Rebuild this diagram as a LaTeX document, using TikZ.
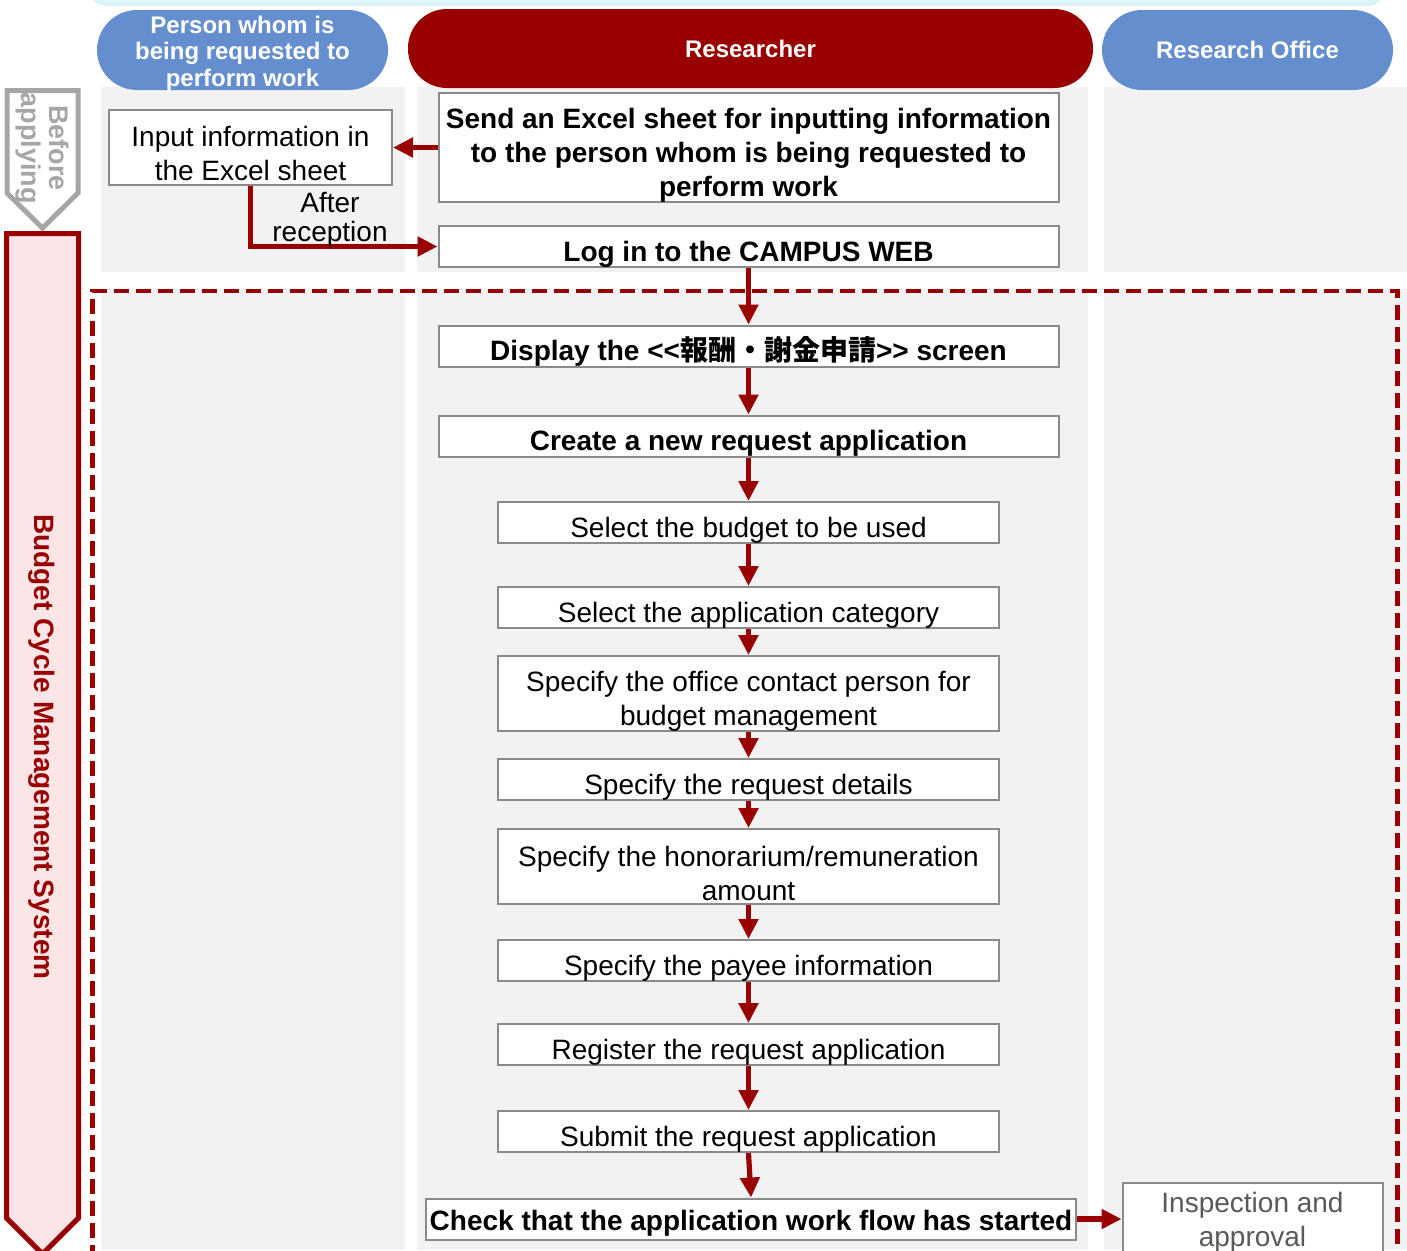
\documentclass[tikz,border=0pt]{standalone}
\usepackage{fontspec}
\setmainfont{Liberation Sans}
\newfontfamily\cjkfont{Noto Sans CJK JP}
\usetikzlibrary{arrows.meta}

\definecolor{darkred}{HTML}{990000}
\definecolor{headblue}{HTML}{658ECF}
\definecolor{lanegray}{HTML}{F2F2F2}
\definecolor{boxgray}{HTML}{8A8A8A}
\definecolor{beforegray}{HTML}{A6A6A6}
\definecolor{topcyan}{HTML}{DCF4F6}
\definecolor{cyclepink}{HTML}{FBE5E6}
\definecolor{inspecttext}{HTML}{595959}

% strut on the first text line, pushes the text a little lower in its box
\newcommand{\stepstrut}[1][20.5pt]{\rule[-3pt]{0pt}{#1}}

\begin{document}
\begin{tikzpicture}[x=0.5pt,y=-0.5pt,
    stepbox/.style={draw=boxgray, line width=1pt, fill=white, align=center, inner xsep=0pt, inner ysep=-1.5pt,
        font=\fontsize{14}{17}\selectfont},
    boldbox/.style={stepbox, font=\bfseries\fontsize{14}{17}\selectfont},
    widebox/.style={minimum width=310pt},
    narrowbox/.style={minimum width=250.5pt},
    onerow/.style={minimum height=20.5pt},
    tworow/.style={minimum height=37.5pt},
    pill/.style={text=white, align=center, inner sep=0pt, font=\bfseries\fontsize{12}{13.25}\selectfont},
    flow/.style={darkred, line width=2.6pt, -{Triangle[width=9.5pt,length=10pt]}}]
    \useasboundingbox (0,0) rectangle (1407,1250);
    \clip (0,0) rectangle (1407,1250);

    % lanes
    \fill[topcyan, rounded corners=8pt] (90,-30) rectangle (1384,6);
    \fill[lanegray] (101,87) rectangle (405,272);
    \fill[lanegray] (417,87) rectangle (1088,272);
    \fill[lanegray] (1104,87) rectangle (1407,272);
    \fill[lanegray] (101,289) rectangle (405,1250);
    \fill[lanegray] (417,289) rectangle (1088,1250);
    \fill[lanegray] (1104,289) rectangle (1407,1250);

    % headers
    \node[pill, fill=headblue, rounded corners=20pt, inner ysep=-1pt, minimum width=145.5pt, minimum height=40pt] (person) at (242.5,50) {\rule{0pt}{12pt}Person whom is\\being requested to\\perform work};
    \node[pill, fill=darkred, rounded corners=19.5pt, minimum width=342.5pt, minimum height=39.5pt] (researcher) at (750.5,48.5) {Researcher};
    \node[pill, fill=headblue, rounded corners=20pt, minimum width=145.5pt, minimum height=40pt] (office) at (1247.5,50) {Research Office};

    % side arrows
    \draw[beforegray, line width=2.5pt, fill=white] (7,90.5) -- (78,90.5) -- (78,193) -- (42.5,228) -- (7,193) -- cycle;
    \node[rotate=-90, text=beforegray, align=center, font=\bfseries\fontsize{13.5}{14}\selectfont] (before) at (42,148) {Before\\applying};
    \draw[darkred, line width=2.5pt, fill=cyclepink] (6.5,233.5) -- (78.5,233.5) -- (78.5,1218) -- (42.5,1254) -- (6.5,1218) -- cycle;
    \node[rotate=-90, text=darkred, font=\bfseries\fontsize{14}{17}\selectfont] (cycle) at (42,747) {Budget Cycle Management System};

    % system area
    \draw[darkred, line width=2.25pt, dash pattern=on 7.5pt off 3.5pt] (92.5,1260) -- (92.5,291) -- (1397.5,291) -- (1397.5,1260);

    % steps
    \node[stepbox, tworow, minimum width=141.5pt] (input) at (250.5,147.5) {\stepstrut[19pt]Input information in\\the Excel sheet};
    \node[boldbox, widebox, minimum height=54.5pt] (send) at (748.5,147.5) {\stepstrut Send an Excel sheet for inputting information\\to the person whom is being requested to\\perform work};
    \node[boldbox, widebox, onerow] (login) at (748.5,246.5) {\stepstrut Log in to the CAMPUS WEB};
    \node[boldbox, widebox, onerow] (display) at (748.5,346) {\stepstrut Display the <\kern0pt<{\cjkfont 報酬・謝金申請}>\kern0pt> screen};
    \node[boldbox, widebox, onerow] (create) at (748.5,436) {\stepstrut Create a new request application};
    \node[stepbox, narrowbox, onerow] (budget) at (748.5,522.5) {\stepstrut Select the budget to be used};
    \node[stepbox, narrowbox, onerow] (category) at (748.5,607.5) {\stepstrut Select the application category};
    \node[stepbox, narrowbox, tworow] (contact) at (748.5,693.5) {\stepstrut Specify the office contact person for\\budget management};
    \node[stepbox, narrowbox, onerow] (details) at (748.5,779.5) {\stepstrut Specify the request details};
    \node[stepbox, narrowbox, tworow] (amount) at (748.5,866.5) {\stepstrut Specify the honorarium/remuneration\\amount};
    \node[stepbox, narrowbox, onerow] (payee) at (748.5,960.5) {\stepstrut Specify the payee information};
    \node[stepbox, narrowbox, onerow] (register) at (748.5,1044.5) {\stepstrut Register the request application};
    \node[stepbox, narrowbox, onerow] (submit) at (748.5,1131.5) {\stepstrut Submit the request application};
    \node[boldbox, inner ysep=0pt, minimum width=325pt, onerow] (check) at (751,1219) {\stepstrut[17.5pt]Check that the application work flow has started};
    \node[draw=boxgray, line width=1pt, fill=white, align=center, inner sep=0pt, text=inspecttext,
        font=\fontsize{14}{17}\selectfont, minimum width=130pt, minimum height=39pt] (inspect) at (1252.5,1222) {Inspection and\\approval};

    % connectors
    \draw[flow] (send.west) -- (input.east);
    \draw[flow] (input.south) |- (login.west);
    \node[align=center, inner sep=0pt, font=\fontsize{14}{14.5}\selectfont] (after) at (330,220) {After\\reception};
    \foreach \from/\to in {login/display, display/create, create/budget, budget/category,
        category/contact, contact/details, details/amount, amount/payee, payee/register,
        register/submit, submit/check}
        \draw[flow] (\from.south) -- (\to.north);
    \draw[flow] (check.east) -- (check.east -| inspect.west);
\end{tikzpicture}
\end{document}
